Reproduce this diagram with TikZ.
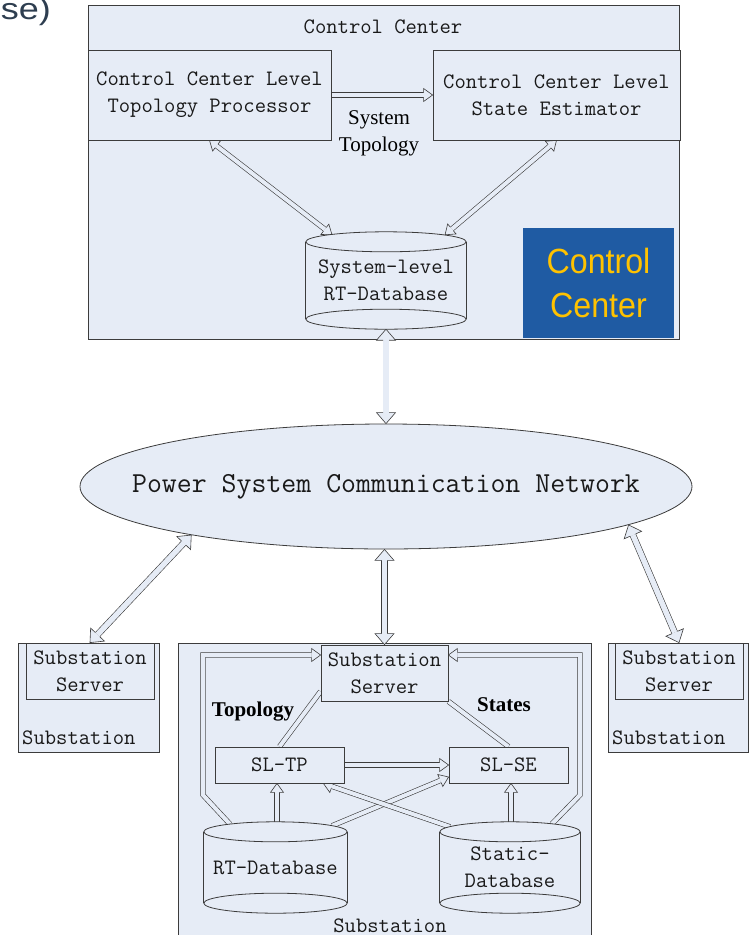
\documentclass[tikz,border=0pt]{standalone}
\usepackage{fontspec}
\usetikzlibrary{calc,shapes.geometric}
\newfontfamily\serifrm{Liberation Serif}
\newfontfamily\sansrm{Liberation Sans}

\definecolor{panel}{RGB}{230,236,246}
\definecolor{edge}{RGB}{60,60,60}
\definecolor{ccblue}{RGB}{31,91,163}
\definecolor{ccgold}{RGB}{255,194,0}
\definecolor{slate}{RGB}{46,62,80}
\definecolor{ink}{RGB}{25,25,25}

\pgfdeclarelayer{back}
\pgfdeclarelayer{links}
\pgfdeclarelayer{drums}
\pgfsetlayers{back,links,drums,main}

% hollow arrows: head length, head half-width, half spacing of the rails, gap between rails
\def\hl{9pt}\def\hw{6.5pt}\def\sw{2.3pt}\def\dd{4pt}
% half height of a database end cap
\def\drumry{10}

\tikzset{
  panelbox/.style={rectangle, draw=edge, fill=panel, line width=0.8pt, inner sep=0pt},
  mono/.style={font=\ttfamily\fontsize{22}{27}\selectfont, text=ink, align=center},
  link/.style={draw=edge, line width=0.6pt, double=panel, double distance=\dd, line join=miter},
  headtip/.style={draw=edge, fill=panel, line width=0.6pt, line join=miter},
  drumbody/.style={draw=edge, fill=panel, line width=0.8pt},
  tag/.style={font=\serifrm\fontsize{21}{27}\selectfont, text=black, align=center},
  boldtag/.style={font=\serifrm\bfseries\fontsize{21}{27}\selectfont, text=black, anchor=base},
}

% open arrow head with its tip at #2, pointing away from #1
\newcommand\tip[2]{%
  \coordinate (tip-base) at ($(#2)!\hl!(#1)$);
  \filldraw[headtip] ($(tip-base)!\sw!90:(#2)$) -- ($(tip-base)!\hw!90:(#2)$) -- (#2)
     -- ($(tip-base)!\hw!-90:(#2)$) -- ($(tip-base)!\sw!-90:(#2)$);}
\newcommand\oneway[2]{\draw[link, shorten >=\hl] (#1) -- (#2); \tip{#1}{#2}}
\newcommand\twoway[2]{\draw[link, shorten >=\hl, shorten <=\hl] (#1) -- (#2); \tip{#1}{#2}\tip{#2}{#1}}

% database drum drawn round the box of node #1
\newcommand\drum[1]{%
  \coordinate (#1-top) at ($(#1.north)+(0,\drumry)$);
  \coordinate (#1-bot) at ($(#1.south)+(0,-\drumry)$);
  \fill[panel] (#1.west |- #1-top) rectangle (#1.east |- #1-bot);
  \path[drumbody] let \p1=($(#1.east)-(#1.west)$) in
    (#1-bot) ellipse [x radius=0.5*\x1, y radius=\drumry pt];
  \draw[drumbody, fill=none] (#1.west |- #1-top) -- (#1.west |- #1-bot)
      (#1.east |- #1-top) -- (#1.east |- #1-bot);
  \path[drumbody] let \p1=($(#1.east)-(#1.west)$) in
    (#1-top) ellipse [x radius=0.5*\x1, y radius=\drumry pt];
}

\begin{document}
\begin{tikzpicture}[x=1pt, y=-1pt]
\useasboundingbox (0,0) rectangle (752,935);
\clip (0,0) rectangle (752,935);

\node[anchor=base east, font=\sansrm\fontsize{30}{36}\selectfont, text=slate, inner sep=0pt] (corner) at (51,19) {\scalebox{1.2}[1]{se)}};

% ---------- containers ----------
\begin{pgfonlayer}{back}
  \node[panelbox, minimum width=591, minimum height=334] (cc) at (383.5,172) {};
  \node[panelbox, minimum width=141, minimum height=109] (lsub) at (88.5,697.5) {};
  \node[panelbox, minimum width=140, minimum height=109] (rsub) at (678,697.5) {};
  \node[panelbox, minimum width=413, minimum height=322] (msub) at (384.5,804) {};
\end{pgfonlayer}

% ---------- control center ----------
\node[mono] (cc-title) at (383,27) {Control Center};
\node[panelbox, mono, minimum width=243, minimum height=90] (tp) at (209.5,95) {Control Center Level\\Topology Processor};
\node[panelbox, mono, minimum width=247, minimum height=90] (se) at (556.5,95) {Control Center Level\\State Estimator};
\node[tag] (systopo) at (379,133) {System\\Topology};
\node[mono, minimum width=160, minimum height=97, inner sep=0pt] (sdb) at (386,280.5) {System-level\\RT-Database};
\node[rectangle, fill=ccblue, minimum width=151, minimum height=110, inner sep=0pt,
      text=ccgold, font=\sansrm\fontsize{35}{44}\selectfont, align=center] (badge) at (598.5,283)
      {\scalebox{0.92}[1]{Control}\\\scalebox{0.92}[1]{Center}};

% ---------- network ----------
\node[ellipse, draw=edge, fill=panel, line width=0.8pt, minimum width=612, minimum height=125, inner sep=0pt] (net) at (386,486.5) {};
\node[mono, font=\ttfamily\fontsize{29}{34}\selectfont] (net-text) at (386,487) {Power System Communication Network};

% ---------- substations ----------
\node[panelbox, mono, minimum width=128, minimum height=56] (lsrv) at (90,671) {Substation\\Server};
\node[mono, anchor=west, inner sep=0pt] (lsub-name) at (22,738) {Substation};
\node[panelbox, mono, minimum width=128, minimum height=56] (rsrv) at (679,671) {Substation\\Server};
\node[mono, anchor=west, inner sep=0pt] (rsub-name) at (612,738) {Substation};

\node[panelbox, mono, minimum width=127, minimum height=56] (srv) at (384.5,673) {Substation\\Server};
\node[panelbox, mono, minimum width=129, minimum height=36] (tp2) at (279.5,765) {SL-TP};
\node[panelbox, mono, minimum width=119, minimum height=36] (se2) at (508.5,765) {SL-SE};
\node[mono, minimum width=143, minimum height=91, inner sep=0pt] (rt) at (275.5,867.5) {RT-Database};
\node[mono, minimum width=140, minimum height=91, inner sep=0pt] (st) at (510,867.5) {Static-\\Database};
\node[mono] (msub-name) at (390,926) {Substation};
\node[boldtag] (topo-tag) at (253,716) {Topology};
\node[boldtag] (state-tag) at (504,711) {States};

\begin{pgfonlayer}{drums}
  \drum{sdb}
  \drum{rt}
  \drum{st}
\end{pgfonlayer}

% ---------- connectors ----------
\begin{pgfonlayer}{links}
  % control center
  \coordinate (sdb-l) at ($(sdb.north)+(-54,3)$);
  \coordinate (sdb-r) at ($(sdb.north)+(59,3)$);
  \oneway{tp.east}{se.west}
  \twoway{tp.south}{sdb-l}
  \twoway{se.south}{sdb-r}

  % wide links to and from the network
  \begin{scope}
    \def\hl{11pt}\def\hw{9.5pt}\def\sw{3pt}\def\dd{5.4pt}
    \twoway{sdb.south}{net.north}
    \coordinate (net-s) at (srv.north |- net.south);
    \twoway{net-s}{srv.north}
    \twoway{net.194}{lsrv.north}
    \twoway{net.351}{rsrv.north}
  \end{scope}

  % inside the substation
  \coordinate (rt-l) at ($(rt.north)+(-45.5,2.3)$);
  \coordinate (lp1) at (203,795);
  \coordinate (lp2) at (203,655);
  \coordinate (srv-l) at ($(srv.west)+(0,-18)$);
  \draw[link, shorten >=\hl] (rt-l) -- (lp1) -- (lp2) -- (srv-l);
  \tip{lp2}{srv-l}

  \coordinate (st-r) at ($(st.north)+(42,2)$);
  \coordinate (rp1) at (580,795);
  \coordinate (rp2) at (580,655);
  \coordinate (srv-r) at ($(srv.east)+(0,-18)$);
  \draw[link, shorten >=\hl] (st-r) -- (rp1) -- (rp2) -- (srv-r);
  \tip{rp2}{srv-r}

  \coordinate (srv-bl) at ($(srv.south west)+(0,-10)$);
  \draw[link] (tp2.north) -- (srv-bl);
  \draw[link] (se2.north) -- (srv.south east);

  \oneway{tp2.east}{se2.west}

  \coordinate (rt-x) at ($(rt.north)+(56.5,4)$);
  \coordinate (se2-l) at ($(se2.west)+(0,12)$);
  \oneway{rt-x}{se2-l}

  \coordinate (st-x) at ($(st.north)+(-60,5)$);
  \coordinate (tp2-r) at ($(tp2.south east)+(-21,0)$);
  \oneway{st-x}{tp2-r}

  \coordinate (rt-up) at ($(rt.north)+(1.5,0)$);
  \coordinate (tp2-b) at (rt-up |- tp2.south);
  \oneway{rt-up}{tp2-b}

  \coordinate (st-up) at ($(st.north)+(1,0)$);
  \coordinate (se2-b) at (st-up |- se2.south);
  \oneway{st-up}{se2-b}
\end{pgfonlayer}
\end{tikzpicture}
\end{document}
